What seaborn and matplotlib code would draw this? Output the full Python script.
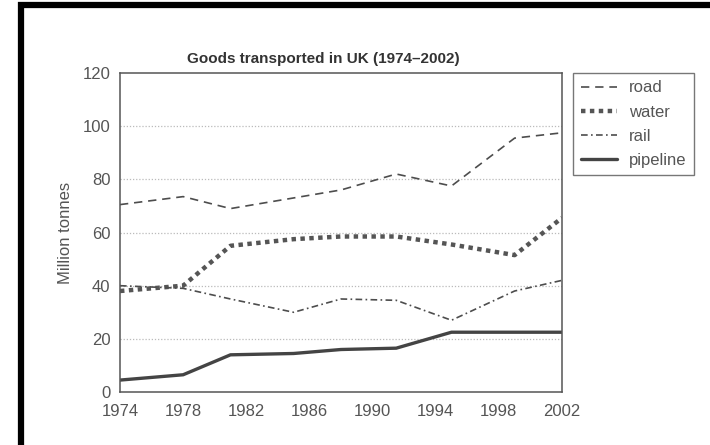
import pandas as pd
import matplotlib.pyplot as plt
import seaborn as sns
from matplotlib.patches import Rectangle

years = [1974, 1978, 1981, 1985, 1988, 1991.5, 1995, 1999, 2002]
road = [70.5, 73.5, 69, 73, 76, 82, 77.5, 95.5, 97.5]
water = [38, 40, 55, 57.5, 58.5, 58.5, 55.5, 51.5, 65.5]
rail = [40, 39, 35, 30, 35, 34.5, 27, 38, 42]
pipeline = [4.5, 6.5, 14, 14.5, 16, 16.5, 22.5, 22.5, 22.5]
modes = ['road', 'water', 'rail', 'pipeline']
x_ticks = [1974, 1978, 1982, 1986, 1990, 1994, 1998, 2002]
y_ticks = [0, 20, 40, 60, 80, 100, 120]

df = pd.DataFrame({'year': years * 4,
                   'tonnes': road + water + rail + pipeline,
                   'mode': [m for m in modes for _ in years]})

sns.set_style('white')
plt.rcParams['font.family'] = ['Liberation Sans', 'DejaVu Sans']

fig = plt.figure(figsize=(7.1, 4.45), dpi=100)
ax = fig.add_axes([0.169, 0.119, 0.6225, 0.717])

line_col = '#4d4d4d'
sns.lineplot(
    data=df, x='year', y='tonnes',
    hue='mode', style='mode', size='mode',
    palette={'road': line_col, 'water': '#555555', 'rail': line_col, 'pipeline': '#444444'},
    dashes={'road': (5, 3.5), 'water': (1, 1), 'rail': (4, 2, 1, 2), 'pipeline': ''},
    sizes={'road': 1.2, 'water': 3.2, 'rail': 1.2, 'pipeline': 2.4},
    hue_order=modes, style_order=modes, size_order=modes,
    ax=ax, legend=True
)

ax.set_xlim(1974, 2002)
ax.set_ylim(0, 120)
ax.set_xticks(x_ticks)
ax.set_yticks(y_ticks)
ax.tick_params(axis='both', labelsize=12, labelcolor='#555555', color='#555555',
               direction='inout', length=7, width=1)
ax.tick_params(axis='x', pad=5)
for y in y_ticks[1:-1]:
    ax.axhline(y, color='#bbbbbb', lw=0.9, ls=(0, (1, 1.5)), zorder=0)
for s in ax.spines.values():
    s.set_color('#555555')
    s.set_linewidth(1.1)

ax.set_xlabel('')
ax.set_ylabel('Million tonnes', fontsize=12, color='#555555', labelpad=7)
ax.set_title('Goods transported in UK (1974\u20132002)', fontsize=11, fontweight='bold',
             color='#333333', pad=7, x=0.46)

handles, labels = ax.get_legend_handles_labels()
leg = ax.legend(handles, labels, loc='upper left', bbox_to_anchor=(1.025, 1.0),
                borderaxespad=0, fontsize=12, frameon=True, fancybox=False,
                handlelength=2.2, borderpad=0.45, labelspacing=0.55, handletextpad=0.7)
leg.get_frame().set_edgecolor('#555555')
leg.get_frame().set_linewidth(1.0)
for t in leg.get_texts():
    t.set_color('#555555')

# black frame around the picture (top and left edges visible)
fig.add_artist(Rectangle((0.03, -0.1), 1.1, 1.088, transform=fig.transFigure,
                         fill=False, edgecolor='black', linewidth=4.5))

fig.savefig('out.png', dpi=100)
